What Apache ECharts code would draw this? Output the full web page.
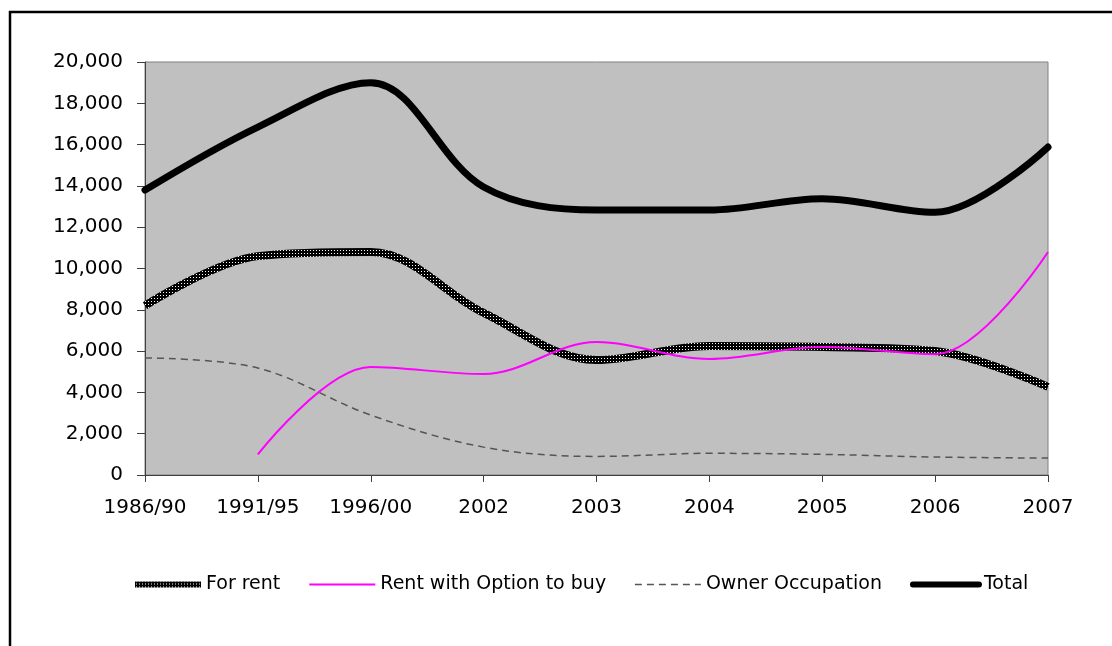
<!DOCTYPE html>
<html>
<head>
<meta charset="utf-8">
<script src="https://cdn.jsdelivr.net/npm/echarts@6/dist/echarts.min.js"></script>
<style>
  html, body { margin: 0; padding: 0; background: #fff; }
  #chart { width: 1112px; height: 646px; }
</style>
</head>
<body>
<div id="chart"></div>
<script>
const categories = ['1986/90', '1991/95', '1996/00', '2002', '2003', '2004', '2005', '2006', '2007']
const forRent = [8200, 10600, 10800, 7850, 5570, 6250, 6200, 6000, 4270]
const rentOption = [null, 1000, 5230, 4890, 6440, 5620, 6200, 5850, 10800]
const ownerOcc = [5670, 5180, 2900, 1350, 900, 1050, 1000, 870, 820]
const total = [13800, 16850, 19000, 13950, 12830, 12830, 13380, 12720, 15880]

// checker texture for the "For rent" line
const pat = document.createElement('canvas')
pat.width = 3
pat.height = 3
const pctx = pat.getContext('2d')
pctx.fillStyle = '#000'
pctx.fillRect(0, 0, 3, 3)
pctx.fillStyle = '#fff'
pctx.fillRect(1, 1, 1, 1)
const rentTexture = { image: pat, repeat: 'repeat' }

const chart = echarts.init(document.getElementById('chart'))
const font = 'DejaVu Sans, Liberation Sans, sans-serif'

const option = {
  animation: false,
  textStyle: { fontFamily: font },
  graphic: [
    {
      type: 'rect',
      shape: { x: 10, y: 12, width: 1200, height: 700 },
      style: { fill: 'none', stroke: '#000', lineWidth: 2.5 },
      silent: true
    }
  ],
  grid: {
    left: 145,
    right: 64,
    top: 62,
    bottom: 171,
    show: true,
    backgroundColor: '#C0C0C0',
    borderColor: '#808080',
    borderWidth: 1
  },
  legend: {
    left: 127,
    top: 570,
    itemWidth: 66,
    itemHeight: 10,
    itemGap: 28,
    itemStyle: { opacity: 0 },
    textStyle: { fontSize: 19, color: '#000', fontFamily: font },
    data: [
      { name: 'For rent', lineStyle: { width: 6, color: rentTexture } },
      { name: 'Rent with Option to buy', lineStyle: { width: 2 } },
      { name: 'Owner Occupation', lineStyle: { width: 1.5 } },
      { name: 'Total', lineStyle: { width: 6, cap: 'round' } }
    ]
  },
  xAxis: {
    type: 'category',
    boundaryGap: false,
    data: categories,
    axisLine: { lineStyle: { color: '#404040', width: 1 } },
    axisTick: { length: 7, lineStyle: { color: '#404040' } },
    axisLabel: { fontSize: 20, color: '#000', margin: 23, interval: 0 },
    splitLine: { show: false }
  },
  yAxis: {
    type: 'value',
    min: 0,
    max: 20000,
    interval: 2000,
    axisLine: { show: true, lineStyle: { color: '#404040', width: 1 } },
    axisTick: { show: true, length: 8, lineStyle: { color: '#404040' } },
    axisLabel: {
      fontSize: 20,
      color: '#000',
      margin: 22,
      formatter: v => v.toLocaleString('en-US')
    },
    splitLine: { show: false }
  },
  series: [
    {
      name: 'For rent',
      type: 'line',
      smooth: 0.35,
      symbol: 'none',
      data: forRent,
      lineStyle: { width: 8, color: rentTexture },
      itemStyle: { color: '#000' }
    },
    {
      name: 'Rent with Option to buy',
      type: 'line',
      smooth: 0.35,
      symbol: 'none',
      data: rentOption,
      lineStyle: { width: 2, color: '#FF00FF' },
      itemStyle: { color: '#FF00FF' }
    },
    {
      name: 'Owner Occupation',
      type: 'line',
      smooth: 0.35,
      symbol: 'none',
      data: ownerOcc,
      lineStyle: { width: 1.5, color: '#555', type: [7, 5] },
      itemStyle: { color: '#555' }
    },
    {
      name: 'Total',
      type: 'line',
      smooth: 0.35,
      symbol: 'none',
      data: total,
      lineStyle: { width: 7, color: '#000', cap: 'round' },
      itemStyle: { color: '#000' }
    }
  ]
}
chart.setOption(option)
</script>
</body>
</html>
